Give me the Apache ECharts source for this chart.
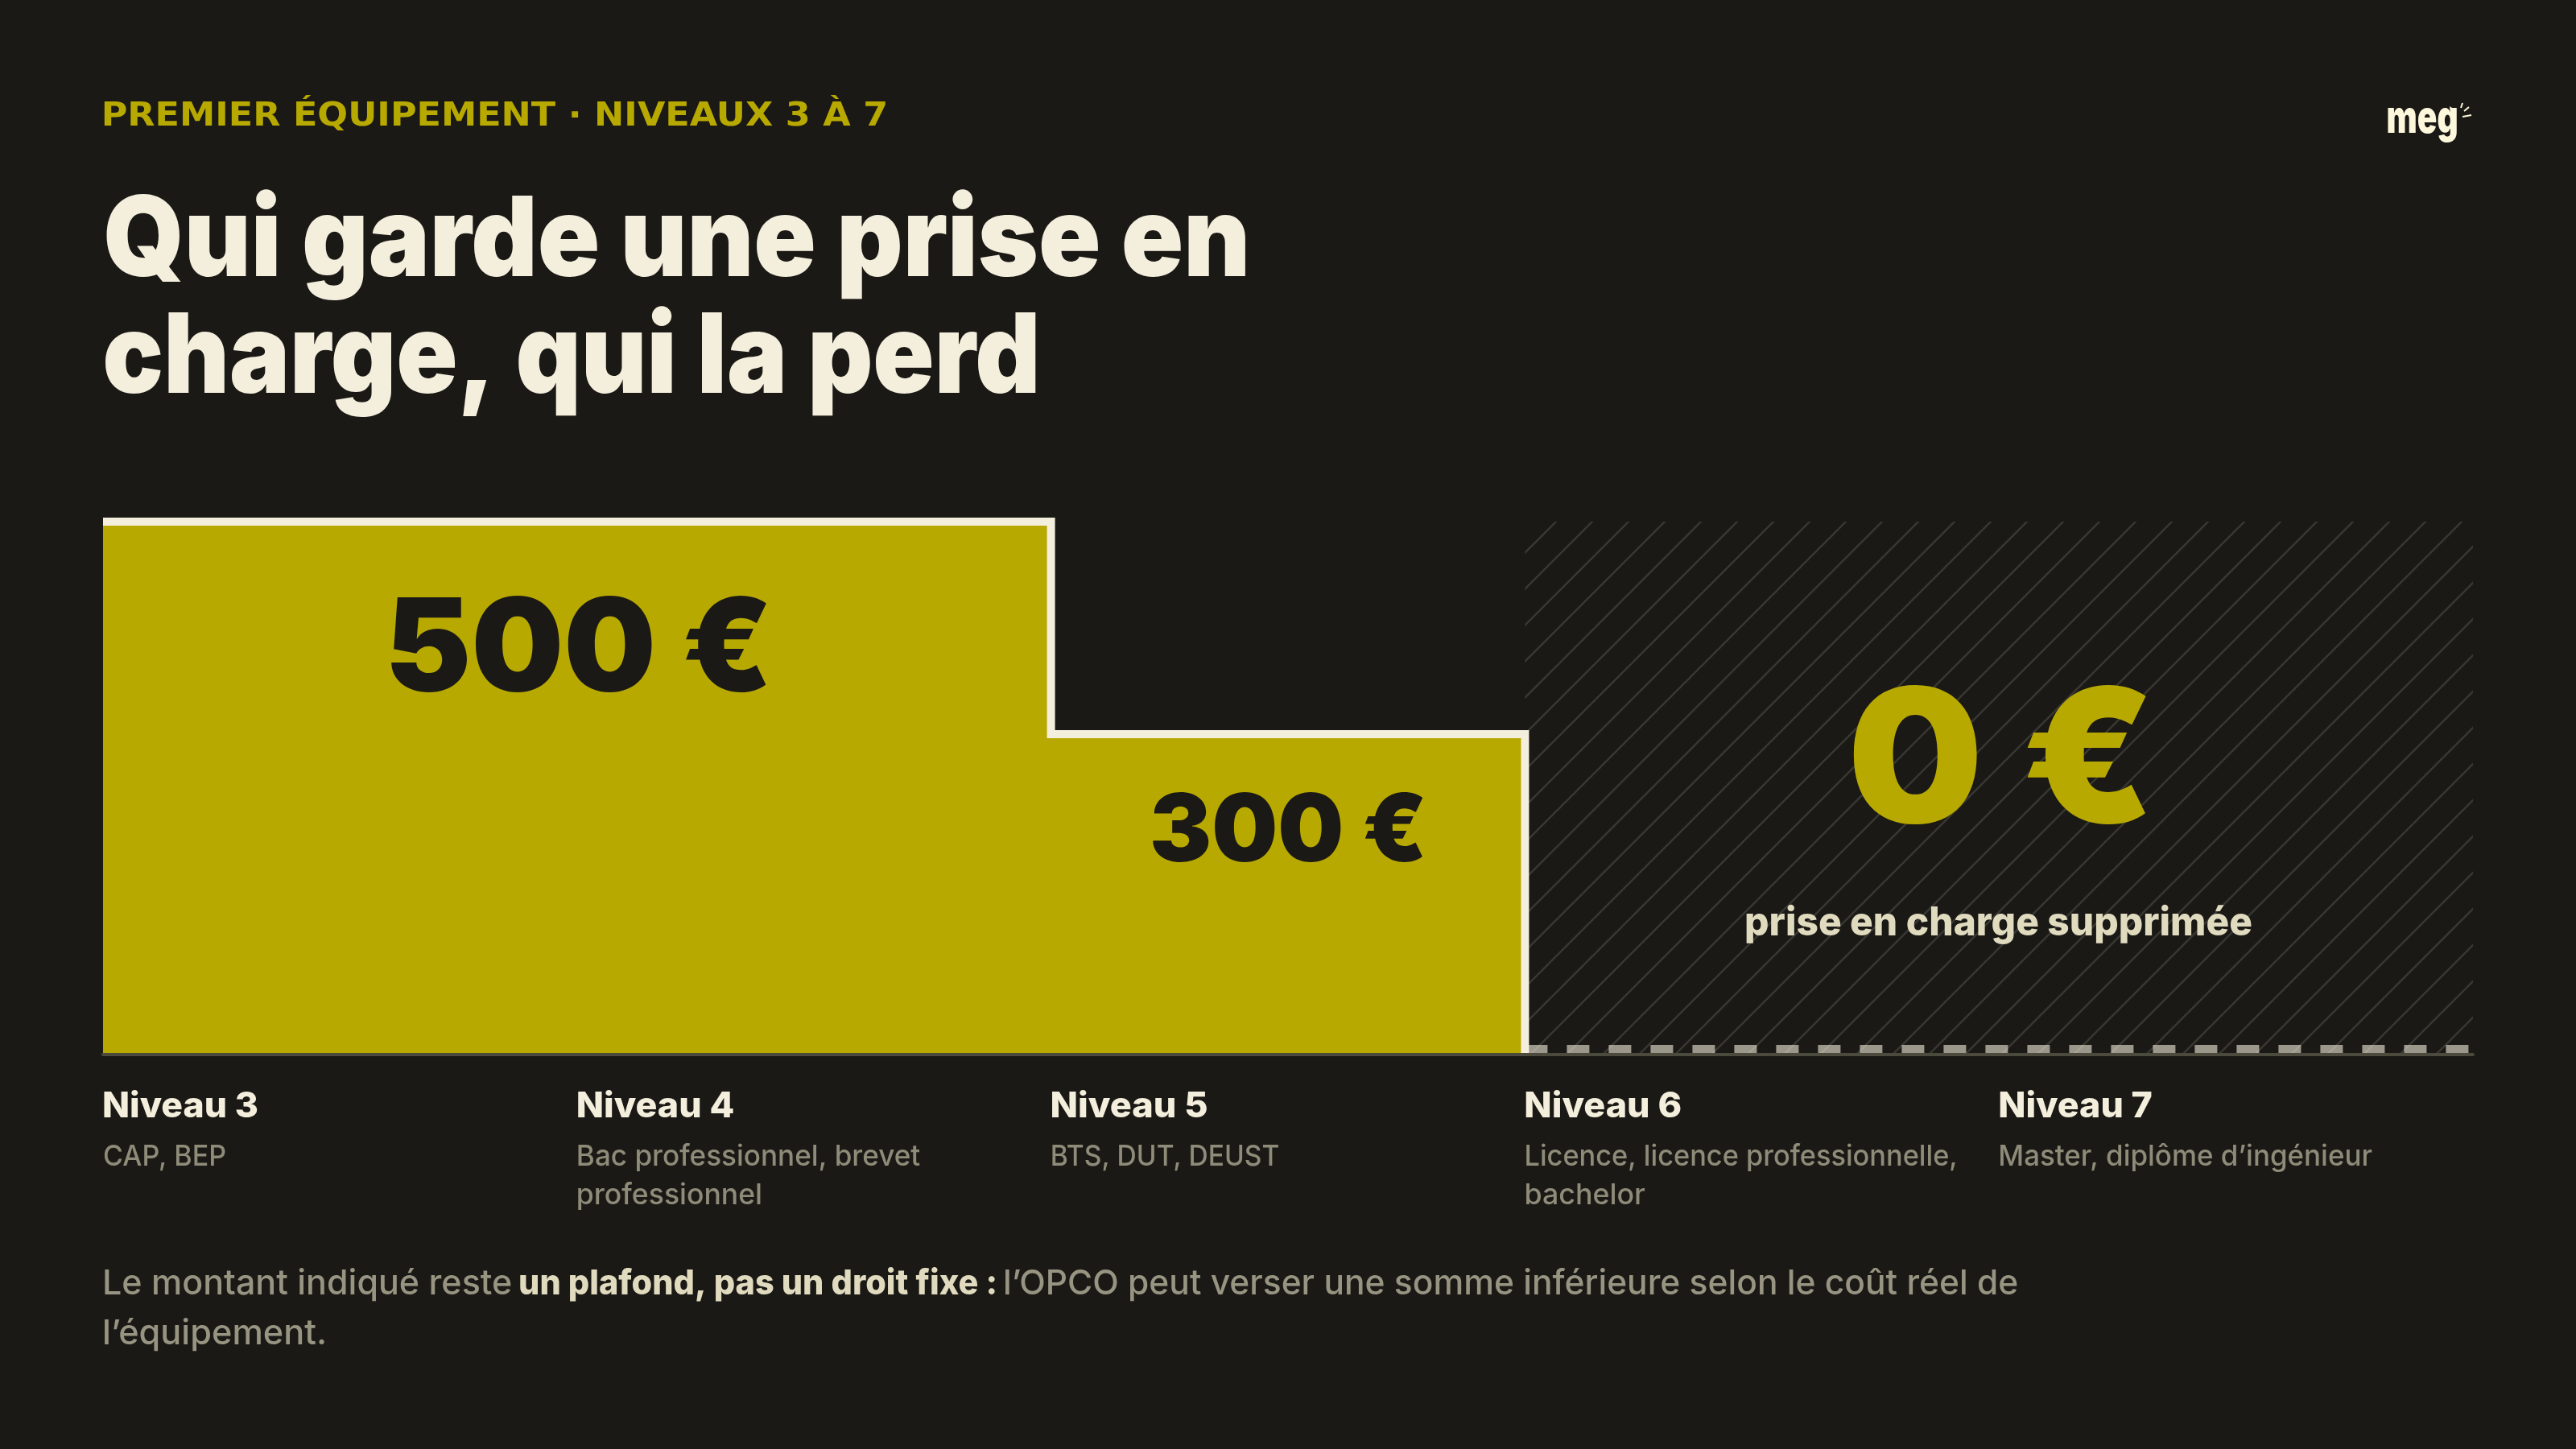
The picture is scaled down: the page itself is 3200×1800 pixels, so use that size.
<!DOCTYPE html>
<html lang="fr"><head><meta charset="utf-8">
<style>html,body{margin:0;padding:0;background:#1a1915}#c{width:3200px;height:1800px}</style>
<script src="https://cdn.jsdelivr.net/npm/echarts@6/dist/echarts.min.js"></script>
</head><body><div id="c"></div>
<script>
const categories = ['Niveau 3','Niveau 4','Niveau 5','Niveau 6','Niveau 7'];
const details = [['CAP, BEP'],['Bac professionnel, brevet','professionnel'],['BTS, DUT, DEUST'],['Licence, licence professionnelle,','bachelor'],['Master, diplôme d’ingénieur']];
const values = [500,500,300,0,0];
const eyebrow = 'PREMIER ÉQUIPEMENT · NIVEAUX 3 À 7';
const titleLines = ['Qui garde une prise en','charge, qui la perd'];
const zeroCaption = 'prise en charge supprimée';
const noteParts = ['Le montant indiqué reste','un plafond, pas un droit fixe :','l’OPCO peut verser une somme inférieure selon le coût réel de','l’équipement.'];

const BG='#1a1915',YEL='#b8a900',CREAM='#f4eedd',MUTED='#8e8b79',NOTE='#979482',BOLD='#e0dabf',DASH='#9c978b',AXIS='#4b4a3c';
const INTER='Inter, "Noto Sans", sans-serif';
const ctx=document.createElement('canvas').getContext('2d');
function fit(text,font,x0,x1,baseline,fill){
  ctx.font=font;ctx.textBaseline='alphabetic';ctx.textAlign='left';
  const a=ctx.measureText(text);
  ctx.textBaseline='middle';
  const b=ctx.measureText(text);
  const d=b.actualBoundingBoxDescent-a.actualBoundingBoxDescent;
  const w=a.actualBoundingBoxLeft+a.actualBoundingBoxRight;
  const s=(x1-x0)/w;
  return {type:'text',z:20,silent:true,x:x0+a.actualBoundingBoxLeft*s,y:baseline-d,scaleX:s,
    style:{text,font,fill,align:'left',verticalAlign:'middle'}};
}
function stepPoints(v){
  const pts=[];
  v.forEach((val,i)=>{ if(i>0&&v[i-1]===0)return; pts.push([i,val]); if(val>0)pts.push([i+1,val]); });
  return pts;
}
const chart=echarts.init(document.getElementById('c'),null,{renderer:'canvas',width:3200,height:1800});
chart.setOption({
  backgroundColor:BG,animation:false,
  grid:{left:128,top:648,width:2944,height:660,containLabel:false},
  xAxis:{type:'value',min:0,max:categories.length,interval:1,offset:2,
    axisLine:{show:true,onZero:false,lineStyle:{color:AXIS,width:4}},axisTick:{show:false},axisLabel:{show:false},splitLine:{show:false}},
  yAxis:{type:'value',min:0,max:500,show:false,splitLine:{show:false}},
  series:[{type:'line',name:'Plafond',data:stepPoints(values),clip:false,showSymbol:false,symbol:'none',z:5,silent:true,
    lineStyle:{color:CREAM,width:10,join:'miter',cap:'butt'},areaStyle:{color:YEL,opacity:1}}]
});
const P=(x,y)=>chart.convertToPixel({gridIndex:0},[x,y]);
const [zx0,ztop]=P(values.indexOf(0),500);
const [zx1,zbot]=P(categories.length,0);

const tile=document.createElement('canvas');tile.width=45;tile.height=45;
const t=tile.getContext('2d');t.strokeStyle='rgba(244,238,221,0.14)';t.lineWidth=2.6;
for(let k=-1;k<3;k++){const c=16+45*k;t.beginPath();t.moveTo(c+20,-20);t.lineTo(c-65,65);t.stroke();}

const g=[];
g.push({type:'line',z:1,silent:true,shape:{x1:zx0,y1:zbot-5,x2:zx1,y2:zbot-5},style:{stroke:DASH,lineWidth:10,lineDash:[28,24]}});
g.push({type:'rect',z:1,silent:true,shape:{x:zx0,y:ztop,width:zx1-zx0,height:zbot-ztop},style:{fill:{image:tile,repeat:'repeat'}}});

g.push(fit(eyebrow,'bold 40px "DejaVu Sans"',129,1100,156,YEL));
g.push(fit(titleLines[0],'900 138px '+INTER,132,1547,343,CREAM));
g.push(fit(titleLines[1],'900 138px '+INTER,131,1287,488,CREAM));

const vlabels=[[values[0],486,952,858,160],[values[2],1432,1768,1070,116],[values[3],2302,2666,1022,232]];
vlabels.forEach(([v,a,b,base,size],i)=>g.push(fit(v+' €','900 '+size+'px '+INTER,a,b,base,i==2?YEL:BG)));
g.push(fit(zeroCaption,'800 50px '+INTER,2169,2797,1162,BOLD));

const headEnds=[320,911,1499,2088,2673];
const subEnds=[[280],[1143,945],[1588],[2429,2044],[2947]];
categories.forEach((c,i)=>{
  const x=P(i,0)[0]+1;
  g.push(fit(c,'800 44px '+INTER,x,headEnds[i],1388,CREAM));
  details[i].forEach((l,j)=>g.push(fit(l,'500 36px '+INTER,x,subEnds[i][j],1448+48*j,MUTED)));
});

g.push(fit(noteParts[0],'500 43px '+INTER,130,635,1608,NOTE));
g.push(fit(noteParts[1],'800 43px '+INTER,646,1236,1608,BOLD));
g.push(fit(noteParts[2],'500 43px '+INTER,1249,2506,1608,NOTE));
g.push(fit(noteParts[3],'500 43px '+INTER,130,403,1670,NOTE));

const LOGO='#fdf8dc';
g.push(fit('meg','900 56px '+INTER,2966,3052,165,LOGO));
g.push({type:'polygon',z:20,silent:true,shape:{points:[[3043,132],[3049,136],[3044,141]]},style:{fill:LOGO}});
[[3057,134,3059,128],[3061,138,3067,133],[3059,145,3070,143]].forEach(s=>g.push({type:'line',z:20,silent:true,shape:{x1:s[0],y1:s[1],x2:s[2],y2:s[3]},style:{stroke:LOGO,lineWidth:2}}));
chart.setOption({graphic:{elements:g}});
</script></body></html>
